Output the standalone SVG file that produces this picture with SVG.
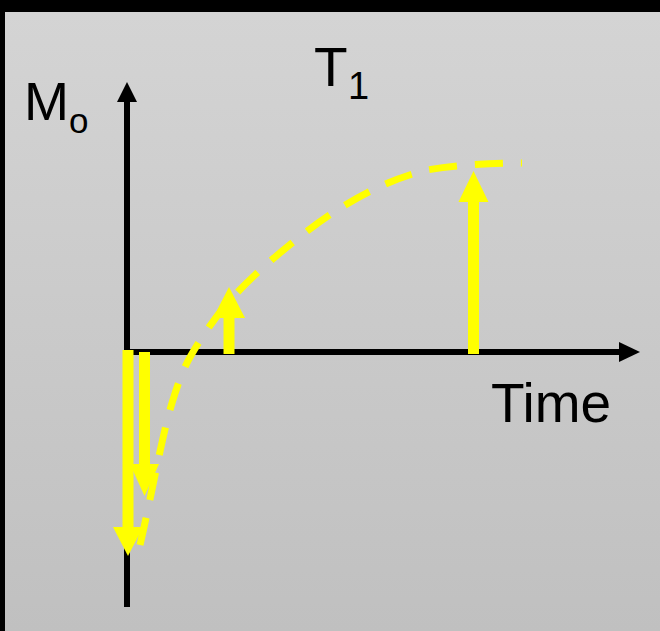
<svg xmlns="http://www.w3.org/2000/svg" width="660" height="631" viewBox="0 0 660 631">
<defs>
<linearGradient id="bg" x1="0" y1="0" x2="0" y2="1">
<stop offset="0" stop-color="#d4d4d4"/>
<stop offset="1" stop-color="#c0c0c0"/>
</linearGradient>
</defs>
<style>
.lbl{font-family:"Liberation Sans",Arial,sans-serif;fill:#000}
.axis{stroke:#000;stroke-width:6;fill:none}
.ahead{fill:#000}
.ys{stroke:#ffff00;stroke-width:11;fill:none}
.yh{fill:#ffff00}
.curve{stroke:#ffff00;stroke-width:7;fill:none;stroke-dasharray:28 18}
</style>
<rect x="0" y="0" width="660" height="631" fill="#000"/>
<rect x="5" y="12" width="655" height="619" fill="url(#bg)"/>
<g id="labels">
<text class="lbl" x="24" y="120" font-size="54">M</text>
<text class="lbl" x="69" y="133" font-size="35">o</text>
<text class="lbl" x="314" y="86" font-size="55">T</text>
<text class="lbl" x="348" y="99" font-size="38">1</text>
<text class="lbl" x="491" y="422" font-size="55">Time</text>
</g>
<g id="axes">
<line class="axis" x1="127" y1="100" x2="127" y2="607"/>
<polygon class="ahead" points="127,82 137,102 117,102"/>
<line class="axis" x1="124" y1="352" x2="622" y2="352"/>
<polygon class="ahead" points="640,352 619,342 619,362"/>
</g>
<g id="curve">
<path class="curve" d="M140,545 C151,498 161.5,437.8 172,403 C182.5,368.2 189,357.5 203,336 C217,314.5 232.8,295.5 256,274 C279.2,252.5 313.5,224.3 342,207 C370.5,189.7 397,177.3 427,170 C457,165 491,163 522,163"/>
</g>
<g id="arrows">
<line class="ys" x1="229" y1="354" x2="229" y2="316"/>
<polygon class="yh" points="229,287 245,318 213,318"/>
<line class="ys" x1="473.5" y1="354" x2="473.5" y2="200"/>
<polygon class="yh" points="473.5,171 488.5,202 458.5,202"/>
<line class="ys" x1="128" y1="350" x2="128" y2="529"/>
<polygon class="yh" points="128,556 113,527 143,527"/>
<line class="ys" x1="144.5" y1="352" x2="144.5" y2="466"/>
<polygon class="yh" points="144.5,496 130,464 159,464"/>
</g>
</svg>
